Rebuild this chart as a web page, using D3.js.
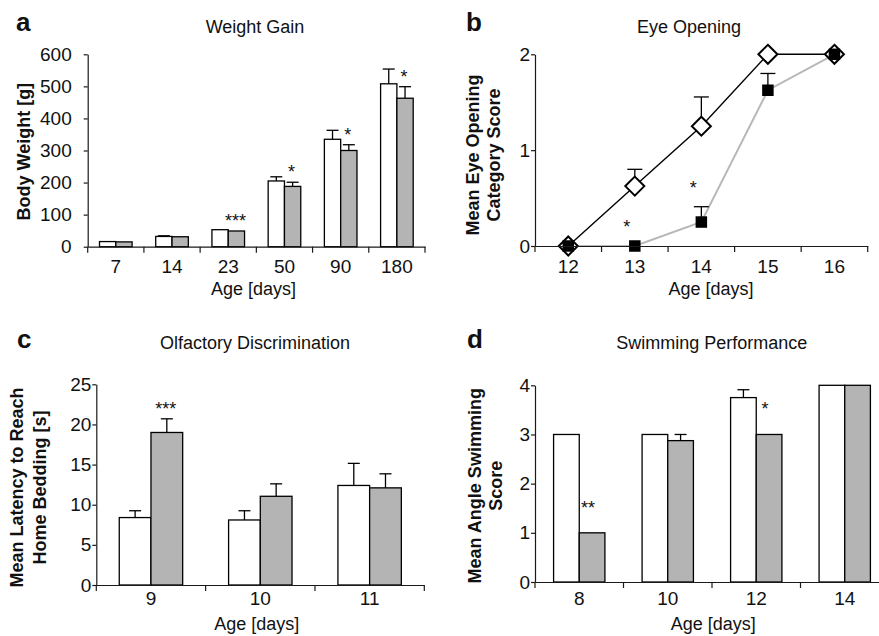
<!DOCTYPE html>
<html><head><meta charset="utf-8">
<script src="https://cdn.jsdelivr.net/npm/d3@7"></script>
<style>
body{margin:0;background:#fff;}
svg{display:block;}
</style></head><body>
<svg id="chart" width="879" height="636"></svg>
<script>
// ---------- DATA ----------
// (a) Weight Gain
const weightDays = ["7", "14", "23", "50", "90", "180"];
const weightControl = [16, 32, 53, 205, 335, 508];
const weightControlErr = [1, 2, 1, 13, 28, 46];
const weightTreated = [15, 31, 49, 188, 300, 463];
const weightTreatedErr = [1, 1, 1, 13, 18, 36];
const weightSig = ["", "", "***", "*", "*", "*"];
const weightTicks = [0, 100, 200, 300, 400, 500, 600];

// (b) Eye Opening
const eyeDays = ["12", "13", "14", "15", "16"];
const eyeControl = [0, 0.625, 1.25, 2, 2];
const eyeControlErr = [0, 0.175, 0.305, 0, 0];
const eyeTreated = [0, 0, 0.25, 1.625, 2];
const eyeTreatedErr = [0, 0, 0.16, 0.175, 0];
const eyeSig = ["", "*", "*", "", ""];
const eyeTicks = [0, 1, 2];

// (c) Olfactory Discrimination
const olfDays = ["9", "10", "11"];
const olfControl = [8.4, 8.1, 12.4];
const olfControlErr = [0.85, 1.15, 2.75];
const olfTreated = [19.0, 11.05, 12.1];
const olfTreatedErr = [1.7, 1.55, 1.75];
const olfSig = ["***", "", ""];
const olfTicks = [0, 5, 10, 15, 20, 25];

// (d) Swimming Performance
const swimDays = ["8", "10", "12", "14"];
const swimControl = [3, 3, 3.75, 4];
const swimControlErr = [0, 0, 0.16, 0];
const swimTreated = [1, 2.875, 3, 4];
const swimTreatedErr = [0, 0.125, 0, 0];
const swimSig = ["**", "", "*", ""];
const swimTicks = [0, 1, 2, 3, 4];

// ---------- STYLE ----------
const FONT = '"Liberation Sans", Arial, Helvetica, sans-serif';
const FS = 18;
const TFS = 19;
const GRAY = "#b4b4b4";
const AX = "#1a1a1a";
const TXT = "#111";

const svg = d3.select("#chart").attr("font-family", FONT);

function styleAxis(g) {
  g.attr("font-family", FONT).attr("font-size", TFS);
  g.select(".domain").attr("stroke", AX).attr("stroke-width", 1.2);
  g.selectAll(".tick line").attr("stroke", AX).attr("stroke-width", 1.2);
  g.selectAll(".tick text").attr("fill", TXT);
}

function axes(x, y, ticks, yPad, xPad) {
  const ya = svg.append("g").attr("transform", `translate(${x.range()[0]},0)`)
    .call(d3.axisLeft(y).tickValues(ticks).tickFormat(d3.format("d"))
      .tickSizeInner(4).tickSizeOuter(0).tickPadding(yPad));
  styleAxis(ya);
  const xa = svg.append("g").attr("transform", `translate(0,${y(0)})`)
    .call(d3.axisBottom(x).tickSize(0).tickPadding(xPad));
  styleAxis(xa);
  // boundary ticks between categories
  const bounds = x.domain().map(d => x(d)).concat([x.range()[1]]);
  xa.selectAll(".btick").data(bounds).join("line").attr("class", "btick")
    .attr("x1", d => d).attr("x2", d => d).attr("y1", 0).attr("y2", 6)
    .attr("stroke", AX).attr("stroke-width", 1.2);
}

function text(x, y, s, opts = {}) {
  const t = svg.append("text").attr("x", x).attr("y", y).text(s)
    .attr("font-size", opts.size || FS).attr("fill", TXT)
    .attr("text-anchor", opts.anchor || "middle");
  if (opts.bold) t.attr("font-weight", "bold");
  return t;
}

function yTitle(xs, yc, lines) {
  lines.forEach((l, i) => {
    svg.append("text").attr("transform", `translate(${xs[i]},${yc}) rotate(-90)`)
      .attr("dy", "0.3em").attr("text-anchor", "middle")
      .attr("font-size", FS).attr("font-weight", "bold").attr("fill", TXT).text(l);
  });
}

function errBar(g, cx, y1, y2, cap) {
  if (Math.abs(y1 - y2) < 0.5) return;
  g.append("line").attr("x1", cx).attr("x2", cx).attr("y1", y1).attr("y2", y2)
    .attr("stroke", "#000").attr("stroke-width", 1.3);
  g.append("line").attr("x1", cx - cap / 2).attr("x2", cx + cap / 2).attr("y1", y2).attr("y2", y2)
    .attr("stroke", "#000").attr("stroke-width", 1.3);
}

function barPanel(cfg) {
  const x = d3.scaleBand().domain(cfg.cats).range(cfg.xr).padding(0);
  const y = d3.scaleLinear().domain([0, d3.max(cfg.ticks)]).range(cfg.yr);
  const sub = d3.scaleBand().domain(["control", "treated"])
    .range([x.bandwidth() * 0.21, x.bandwidth() * 0.79]).padding(0);
  const g = svg.append("g");
  const series = [
    { key: "control", vals: cfg.control, errs: cfg.controlErr, fill: "#fff" },
    { key: "treated", vals: cfg.treated, errs: cfg.treatedErr, fill: GRAY }
  ];
  series.forEach(s => {
    g.selectAll(null).data(cfg.cats).join("rect")
      .attr("x", d => x(d) + sub(s.key)).attr("width", sub.bandwidth())
      .attr("y", (d, i) => y(s.vals[i])).attr("height", (d, i) => y(0) - y(s.vals[i]))
      .attr("fill", s.fill).attr("stroke", "#000").attr("stroke-width", 1.3);
  });
  series.forEach(s => {
    cfg.cats.forEach((d, i) => {
      const cx = x(d) + sub(s.key) + sub.bandwidth() / 2;
      errBar(g, cx, y(s.vals[i]), y(s.vals[i] + s.errs[i]), 12);
    });
  });
  axes(x, y, cfg.ticks, cfg.yPad, cfg.xPad);
  // significance marks above treated bars
  cfg.cats.forEach((d, i) => {
    if (!cfg.sig[i]) return;
    const cx = x(d) + sub("treated") + sub.bandwidth() / 2 + cfg.starDx;
    const top = y(cfg.treated[i] + cfg.treatedErr[i]) - cfg.starGap;
    text(cx, top + 10, cfg.sig[i]);
  });
}

// ---------- PANEL A ----------
barPanel({
  cats: weightDays, control: weightControl, controlErr: weightControlErr,
  treated: weightTreated, treatedErr: weightTreatedErr, sig: weightSig,
  ticks: weightTicks, xr: [87.7, 425], yr: [246.7, 54.3],
  yPad: 12, xPad: 13, starGap: 14, starDx: -1
});
text(16, 31, "a", { size: 26, bold: true, anchor: "start" });
text(255, 33, "Weight Gain");
text(253.5, 295, "Age [days]");
yTitle([24.7], 151.7, ["Body Weight [g]"]);

// ---------- PANEL B ----------
(function () {
  const x = d3.scaleBand().domain(eyeDays).range([535, 867.7]).padding(0);
  const y = d3.scaleLinear().domain([0, d3.max(eyeTicks)]).range([246, 54.3]);
  const cx = d => x(d) + x.bandwidth() / 2;
  const g = svg.append("g");
  const line = vals => d3.line().x(d => cx(d)).y((d, i) => y(vals[i]))(eyeDays);
  g.append("path").attr("d", line(eyeControl)).attr("fill", "none")
    .attr("stroke", "#000").attr("stroke-width", 1.4);
  g.append("path").attr("d", line(eyeTreated)).attr("fill", "none")
    .attr("stroke", "#b8b8b8").attr("stroke-width", 2);
  axes(x, y, eyeTicks, 1, 14);
  eyeDays.forEach((d, i) => {
    errBar(g, cx(d), y(eyeControl[i]), y(eyeControl[i] + eyeControlErr[i]), 15);
    errBar(g, cx(d), y(eyeTreated[i]), y(eyeTreated[i] + eyeTreatedErr[i]), 15);
  });
  const r = 9.5;
  g.selectAll(".dia").data(eyeDays).join("path").attr("class", "dia")
    .attr("d", (d, i) => `M${cx(d)},${y(eyeControl[i]) - r}L${cx(d) + r},${y(eyeControl[i])}L${cx(d)},${y(eyeControl[i]) + r}L${cx(d) - r},${y(eyeControl[i])}Z`)
    .attr("fill", "#fff").attr("stroke", "#000").attr("stroke-width", 2);
  const s = 11.5;
  g.selectAll(".sq").data(eyeDays).join("rect").attr("class", "sq")
    .attr("x", d => cx(d) - s / 2).attr("y", (d, i) => y(eyeTreated[i]) - s / 2)
    .attr("width", s).attr("height", s).attr("fill", "#000");
  eyeDays.forEach((d, i) => {
    if (!eyeSig[i]) return;
    const top = y(eyeTreated[i] + eyeTreatedErr[i]) - 23;
    text(cx(d) - 8, top + 10, eyeSig[i]);
  });
})();
text(466, 31, "b", { size: 26, bold: true, anchor: "start" });
text(689, 33, "Eye Opening");
text(711, 295, "Age [days]");
yTitle([473.3, 495], 155, ["Mean Eye Opening", "Category Score"]);

// ---------- PANEL C ----------
barPanel({
  cats: olfDays, control: olfControl, controlErr: olfControlErr,
  treated: olfTreated, treatedErr: olfTreatedErr, sig: olfSig,
  ticks: olfTicks, xr: [96.3, 424.3], yr: [585, 384.3],
  yPad: 1, xPad: 7, starGap: 14, starDx: -1
});
text(17, 348, "c", { size: 26, bold: true, anchor: "start" });
text(255, 349, "Olfactory Discrimination");
text(256.7, 630, "Age [days]");
yTitle([17.5, 40.7], 487.5, ["Mean Latency to Reach", "Home Bedding [s]"]);

// ---------- PANEL D ----------
barPanel({
  cats: swimDays, control: swimControl, controlErr: swimControlErr,
  treated: swimTreated, treatedErr: swimTreatedErr, sig: swimSig,
  ticks: swimTicks, xr: [535, 889], yr: [582, 385.3],
  yPad: 1, xPad: 10, starGap: 29, starDx: -4
});
text(467, 348, "d", { size: 26, bold: true, anchor: "start" });
text(711.7, 349, "Swimming Performance");
text(713.3, 630, "Age [days]");
yTitle([475.8, 496.7], 485.8, ["Mean Angle Swimming", "Score"]);
</script>
</body></html>
